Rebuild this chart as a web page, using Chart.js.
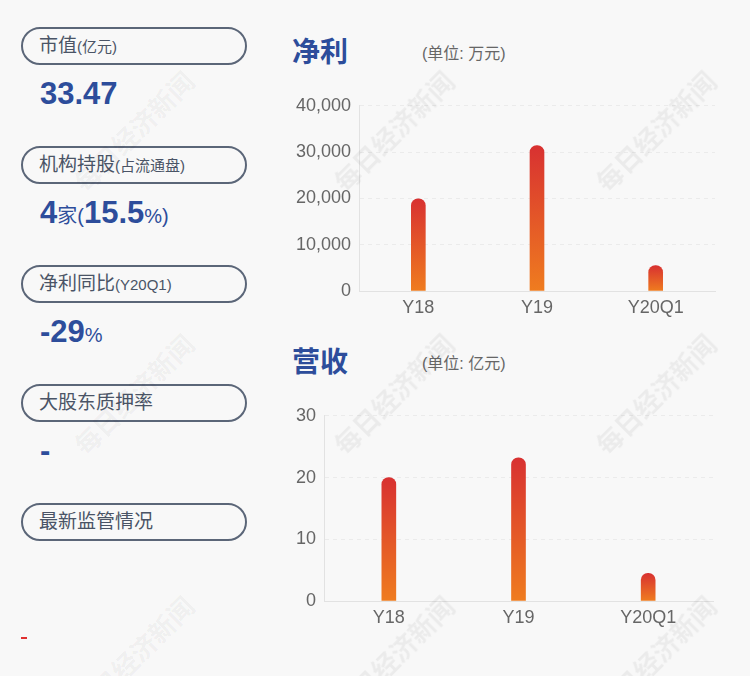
<!DOCTYPE html>
<html>
<head>
<meta charset="utf-8">
<script src="https://cdn.jsdelivr.net/npm/chart.js@4"></script>
<style>
  body { margin: 0; background: #f8f8f8; font-family: "Liberation Sans", "Noto Sans CJK SC", sans-serif; }
  #page { position: relative; width: 750px; height: 676px; overflow: hidden; }
  .pill { position: absolute; left: 21px; width: 226px; height: 38px; border: 2px solid #5b6678; border-radius: 19px;
          font-size: 19px; color: #4a5466; line-height: 34px; padding-left: 16px; box-sizing: border-box; }
  .pill small { font-size: 15px; }
  .val { position: absolute; left: 40px; color: #2d4d9b; font-weight: bold; font-size: 31px; }
  .val span { font-weight: normal; font-size: 20px; }
  .title { position: absolute; font-size: 28px; font-weight: bold; color: #2d4d9b; font-family: "Noto Sans CJK SC", sans-serif; }
  .unit { position: absolute; font-size: 16px; color: #666; }
  canvas { position: absolute; }
  .wm { position: absolute; font-size: 26px; font-weight: bold; color: rgba(0,0,0,0.05); transform: rotate(-45deg);
        white-space: nowrap; pointer-events: none; font-family: "Noto Sans CJK SC", sans-serif; }
</style>
</head>
<body>
<div id="page">
  <div class="pill" style="top:27px">市值<small>(亿元)</small></div>
  <div class="val" style="top:76px">33.47</div>
  <div class="pill" style="top:146px">机构持股<small>(占流通盘)</small></div>
  <div class="val" style="top:195px">4<span>家(</span>15.5<span>%)</span></div>
  <div class="pill" style="top:265px">净利同比<small>(Y20Q1)</small></div>
  <div class="val" style="top:314px">-29<span>%</span></div>
  <div class="pill" style="top:384px">大股东质押率</div>
  <div class="val" style="top:433px">-</div>
  <div class="pill" style="top:503px">最新监管情况</div>
  <div style="position:absolute;left:21px;top:637px;width:6px;height:2px;background:#e03030"></div>

  <div class="title" style="left:292px;top:30px">净利</div>
  <div class="unit" style="left:422px;top:40px">(单位: 万元)</div>
  <div class="title" style="left:292px;top:340px">营收</div>
  <div class="unit" style="left:422px;top:350px">(单位: 亿元)</div>

  <canvas id="profit" width="440" height="238" style="left:285px;top:87px"></canvas>
  <canvas id="revenue" width="470" height="240" style="left:250px;top:397px"></canvas>
</div>
<script>
const periods = ['Y18', 'Y19', 'Y20Q1'];
const profitValues = [19900, 31400, 5500];   // 万元
const revenueValues = [20.0, 23.2, 4.5];     // 亿元
const profitTicks = [0, 10000, 20000, 30000, 40000];
const revenueTicks = [0, 10, 20, 30];

// watermarks
[[133, 130], [393, 130], [655, 130], [133, 393], [393, 393], [655, 393], [133, 655], [393, 655], [655, 655]].forEach(p => {
  let d = document.createElement('div');
  d.className = 'wm';
  d.textContent = '每日经济新闻';
  document.getElementById('page').appendChild(d);
  d.style.left = (p[0] - d.offsetWidth / 2) + 'px';
  d.style.top = (p[1] - d.offsetHeight / 2) + 'px';
});

function barGradient(context) {
  let chart = context.chart;
  if (!chart.chartArea || context.parsed == null) return '#e04a2a';
  let y = chart.scales.y;
  let top = y.getPixelForValue(context.parsed.y);
  let bottom = y.getPixelForValue(0);
  if (bottom - top < 1) return '#e04a2a';
  let g = chart.ctx.createLinearGradient(0, top, 0, bottom);
  g.addColorStop(0, '#d83131');
  g.addColorStop(1, '#ef7c1f');
  return g;
}

function makeChart(id, values, ticks, yWidth, padRight, xHeight) {
  return new Chart(document.getElementById(id), {
    type: 'bar',
    data: {
      labels: periods,
      datasets: [{
        data: values,
        backgroundColor: barGradient,
        barThickness: 14,
        borderRadius: { topLeft: 7, topRight: 7, bottomLeft: 0, bottomRight: 0 },
        borderSkipped: false,
      }],
    },
    options: {
      responsive: false,
      animation: false,
      layout: { padding: { top: 16, right: padRight, left: 0, bottom: 0 } },
      plugins: { legend: { display: false }, tooltip: { enabled: false } },
      scales: {
        x: {
          grid: { display: false, drawTicks: false },
          border: { display: true, color: '#e2e2e2' },
          ticks: { color: '#666', font: { size: 18, family: 'Liberation Sans' }, padding: 6 },
          afterFit: s => { s.height = xHeight; },
        },
        y: {
          min: 0,
          max: ticks[ticks.length - 1],
          afterBuildTicks: s => { s.ticks = ticks.map(v => ({ value: v })); },
          grid: { color: '#ebebeb', drawTicks: false },
          border: { display: true, color: '#e2e2e2', dash: [4, 4] },
          ticks: {
            color: '#666',
            font: { size: 18, family: 'Liberation Sans' },
            padding: 8,
            callback: v => v.toLocaleString('en-US'),
          },
          afterFit: s => { s.width = yWidth; },
        },
      },
    },
  });
}

makeChart('profit', profitValues, profitTicks, 74, 10, 34);
makeChart('revenue', revenueValues, revenueTicks, 74, 7, 36);
</script>
</body>
</html>
